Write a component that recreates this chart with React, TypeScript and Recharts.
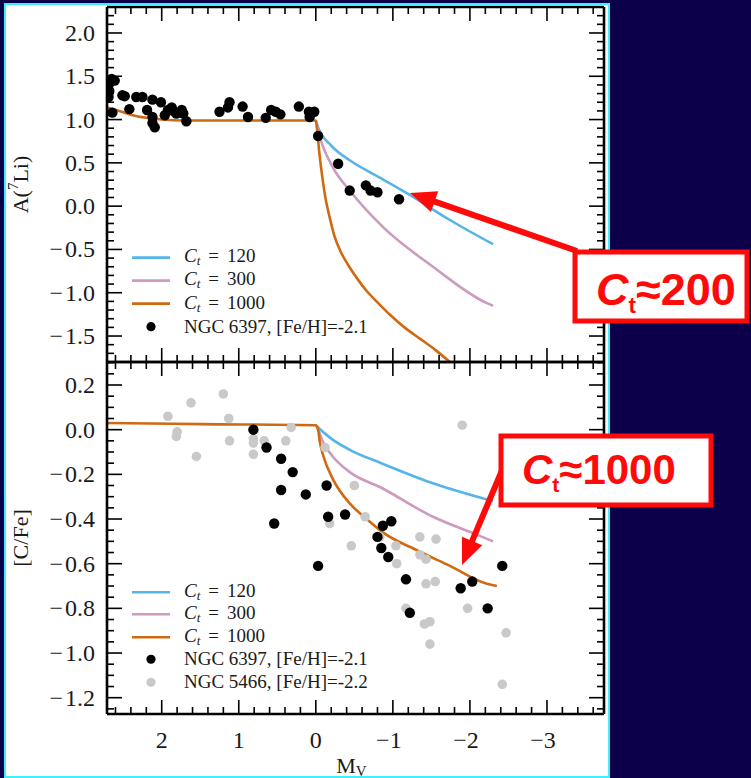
import React from 'react';
import { ComposedChart, Line, Scatter, XAxis, YAxis, Legend, ReferenceLine } from 'recharts';

type Pt = { mv: number; v: number };
const toPts = (rows: number[][]): Pt[] => rows.map(([mv, v]) => ({ mv, v }));

// ---- lithium panel: model tracks (M_V, A(7Li)) ----
const LI_CT120 = toPts([
  [0.0, 0.99], [-0.03, 0.91], [-0.2, 0.7], [-0.44, 0.53], [-0.83, 0.33],
  [-1.22, 0.13], [-1.74, -0.16], [-2.3, -0.44],
]);
const LI_CT300 = toPts([
  [0.0, 0.99], [-0.03, 0.87], [-0.22, 0.45], [-0.44, 0.18], [-0.87, -0.24],
  [-1.52, -0.7], [-2.22, -1.12], [-2.3, -1.15],
]);
// the 1000 track carries the shared pre-dredge-up branch
const LI_CT1000 = toPts([
  [2.71, 1.14], [2.55, 1.1], [2.38, 1.05], [2.2, 1.02], [2.0, 1.0], [1.7, 0.99],
  [1.2, 0.99], [0.5, 0.99], [0.0, 0.99], [-0.02, 0.85], [-0.05, 0.58], [-0.09, 0.3],
  [-0.13, 0.07], [-0.18, -0.13], [-0.24, -0.34], [-0.32, -0.52], [-0.42, -0.68],
  [-0.54, -0.84], [-0.66, -0.98], [-0.8, -1.11], [-0.97, -1.26], [-1.15, -1.4],
  [-1.35, -1.53], [-1.55, -1.66], [-1.74, -1.8],
]);
const LI_NGC6397 = toPts([
  [2.65, 1.47], [2.61, 1.45], [2.69, 1.4], [2.68, 1.33], [2.69, 1.26], [2.64, 1.08],
  [2.51, 1.28], [2.48, 1.27], [2.42, 1.12], [2.33, 1.26], [2.25, 1.26], [2.19, 1.11],
  [2.12, 1.23], [2.01, 1.2], [2.12, 1.03], [2.12, 0.96], [2.09, 0.91], [1.96, 1.05],
  [1.92, 1.11], [1.87, 1.14], [1.85, 1.1], [1.81, 1.07], [1.74, 1.11], [1.72, 1.07],
  [1.68, 0.98], [1.25, 1.09], [1.14, 1.14], [1.12, 1.2], [0.95, 1.15], [0.88, 1.03],
  [0.65, 1.02], [0.58, 1.11], [0.52, 1.09], [0.46, 1.06], [0.22, 1.15], [0.09, 1.09],
  [0.02, 1.09], [0.08, 1.03], [-0.03, 0.81], [-0.29, 0.49], [-0.44, 0.18],
  [-0.65, 0.24], [-0.71, 0.18], [-0.8, 0.16], [-1.08, 0.08],
]);

// ---- carbon panel: model tracks (M_V, [C/Fe]) ----
const CFE_CT120 = toPts([
  [0.0, 0.02], [-0.03, 0.01], [-0.2, -0.04], [-0.44, -0.09], [-0.85, -0.15],
  [-1.52, -0.24], [-2.3, -0.32],
]);
const CFE_CT300 = toPts([
  [0.0, 0.02], [-0.03, 0.0], [-0.1, -0.06], [-0.22, -0.12], [-0.44, -0.19],
  [-0.85, -0.26], [-1.52, -0.39], [-2.09, -0.47], [-2.3, -0.5],
]);
const CFE_CT1000 = toPts([
  [2.71, 0.03], [1.5, 0.025], [0.0, 0.02], [-0.03, 0.0], [-0.05, -0.05],
  [-0.1, -0.12], [-0.22, -0.22], [-0.44, -0.33], [-0.66, -0.4], [-0.87, -0.46],
  [-1.31, -0.54], [-1.74, -0.61], [-2.22, -0.69], [-2.35, -0.7],
]);
const CFE_NGC6397 = toPts([
  [0.81, 0.0], [0.64, -0.08], [0.45, -0.13], [0.3, -0.19], [0.45, -0.27], [0.13, -0.29],
  [0.54, -0.42], [-0.03, -0.61], [-0.14, -0.25], [-0.16, -0.39], [-0.38, -0.38],
  [-0.8, -0.48], [-0.87, -0.43], [-0.98, -0.41], [-0.85, -0.53], [-0.94, -0.57],
  [-1.17, -0.67], [-1.22, -0.82], [-1.88, -0.71], [-2.03, -0.68], [-2.23, -0.8],
  [-2.42, -0.61],
]);
const CFE_NGC5466 = toPts([
  [1.92, 0.06], [1.62, 0.12], [1.2, 0.16], [1.13, 0.05], [1.8, -0.01], [1.81, -0.03],
  [1.55, -0.12], [1.12, -0.05], [0.81, -0.04], [0.81, -0.06], [0.67, -0.05],
  [0.81, -0.11], [0.39, -0.05], [0.32, 0.01], [-0.12, -0.08], [-0.5, -0.25],
  [-0.18, -0.42], [-0.46, -0.52], [-0.64, -0.39], [-0.83, -0.48], [-1.04, -0.52],
  [-1.05, -0.6], [-1.35, -0.48], [-1.56, -0.49], [-1.35, -0.56], [-1.43, -0.58],
  [-1.43, -0.69], [-1.55, -0.68], [-1.17, -0.8], [-1.41, -0.87], [-1.48, -0.86],
  [-1.48, -0.96], [-1.9, 0.02], [-1.97, -0.8], [-2.47, -0.91], [-2.42, -1.14],
]);

// ---- axes ----
const MV_DOMAIN: [number, number] = [-3.74, 2.71];
const LI_DOMAIN: [number, number] = [-1.8, 2.3];
const CFE_DOMAIN: [number, number] = [-1.273, 0.303];
const MV_STEP = { major: 1, minor: 0.2 };
const LI_STEP = { major: 0.5, minor: 0.1 };
const CFE_STEP = { major: 0.2, minor: 0.05 };

const LEGEND_ORDER = [
  'C_t = 120',
  'C_t = 300',
  'C_t = 1000',
  'NGC 6397, [Fe/H]=-2.1',
  'NGC 5466, [Fe/H]=-2.2',
];

const NAVY = '#0b0049';
const CYAN = '#3ef0ff';
const BLUE = '#56b4e9';
const PINK = '#cc9bbd';
const ORANGE = '#cf6a12';
const GREY = '#c9c9c9';
const RED = '#ff0a0a';
const SERIF = '"Liberation Serif", "DejaVu Serif", serif';
const HAND = '"Liberation Sans", "DejaVu Sans", sans-serif';

const CHART_W = 620;
const PLOT_RIGHT = 604;

const stepTicks = (domain: [number, number], step: number) => {
  const out: number[] = [];
  const lo = Math.ceil(domain[0] / step - 1e-9);
  const hi = Math.floor(domain[1] / step + 1e-9);
  for (let k = lo; k <= hi; k++) out.push(Math.round(k * step * 1000) / 1000);
  return out;
};
const isMultiple = (v: number, step: number) => Math.abs(v / step - Math.round(v / step)) < 1e-6;
// long math minus, optionally followed by a thin gap
const signed = (v: number, digits: number, gap = '') => {
  const s = Math.abs(v).toFixed(digits);
  return v < -1e-9 ? `\u2212${gap}${s}` : s;
};

const TICK_STROKE = { stroke: '#000', strokeWidth: 1.6 };
const TEXT = { fontFamily: SERIF, fill: '#1a1a1a' };

const makeXTick = (plotTop: number, labels: boolean) => (props: any) => {
  const { x, y, payload } = props;
  const major = isMultiple(payload.value, MV_STEP.major);
  const len = major ? 14 : 7;
  const neg = payload.value < 0;
  return (
    <g>
      <line x1={x} x2={x} y1={y} y2={y - len} {...TICK_STROKE} />
      <line x1={x} x2={x} y1={plotTop} y2={plotTop + len} {...TICK_STROKE} />
      {labels && major && (
        <text x={neg ? x - 4 : x} y={y + 26} textAnchor="middle" dominantBaseline="central" fontSize={24} {...TEXT}>
          {signed(payload.value, 0)}
        </text>
      )}
    </g>
  );
};

const makeYTick = (step: { major: number }) => (props: any) => {
  const { x, y, payload } = props;
  const major = isMultiple(payload.value, step.major);
  const len = major ? 15 : 7;
  return (
    <g>
      <line x1={x} x2={x + len} y1={y} y2={y} {...TICK_STROKE} />
      <line x1={PLOT_RIGHT} x2={PLOT_RIGHT - len} y1={y} y2={y} {...TICK_STROKE} />
      {major && (
        <text x={x - 12} y={y} textAnchor="end" dominantBaseline="central" fontSize={24} {...TEXT}>
          {signed(payload.value, 1, '\u200a')}
        </text>
      )}
    </g>
  );
};

const liTitle = (props: any) => {
  const vb = props.viewBox;
  const cx = vb.x + 20;
  const cy = vb.y + vb.height / 2;
  return (
    <text transform={`translate(${cx},${cy}) rotate(-90)`} textAnchor="middle" dominantBaseline="central" fontSize={22} {...TEXT}>
      A(<tspan fontSize={15} dy={-7}>7</tspan>
      <tspan dy={7}>Li)</tspan>
    </text>
  );
};

const cfeTitle = (props: any) => {
  const vb = props.viewBox;
  const cx = vb.x + 20;
  const cy = vb.y + vb.height / 2;
  return (
    <text transform={`translate(${cx},${cy}) rotate(-90)`} textAnchor="middle" dominantBaseline="central" fontSize={22} {...TEXT}>
      [C/Fe]
    </text>
  );
};

const mvTitle = (props: any) => {
  const vb = props.viewBox;
  return (
    <text x={vb.x + vb.width / 2 - 4} y={vb.y + 59} textAnchor="middle" fontSize={22} {...TEXT}>
      M<tspan fontSize={15} dy={3}>V</tspan>
    </text>
  );
};

const legendLabel = (value: string) => {
  if (value.startsWith('C_t')) {
    const rest = value.replace('C_t = ', '');
    return (
      <span>
        <i>C</i>
        <sub style={{ fontSize: 13, fontStyle: 'italic', verticalAlign: '-3px' }}>t</sub>
        <span style={{ margin: '0 8px' }}>=</span>
        {rest}
      </span>
    );
  }
  return <span>{value}</span>;
};

const makeLegend = (rowH: number) => (props: any) => {
  const items = [...(props.payload ?? [])].sort(
    (a: any, b: any) => LEGEND_ORDER.indexOf(a.value) - LEGEND_ORDER.indexOf(b.value)
  );
  return (
    <div style={{ fontFamily: SERIF, fontSize: 19, color: '#1a1a1a' }}>
      {items.map((it: any) => (
        <div key={it.value} style={{ display: 'flex', alignItems: 'center', height: rowH, whiteSpace: 'nowrap' }}>
          <svg width={56} height={rowH} style={{ display: 'block' }}>
            {it.type === 'line' ? (
              <line x1={4} x2={42} y1={rowH / 2} y2={rowH / 2} stroke={it.color} strokeWidth={2.6} />
            ) : (
              <circle cx={23} cy={rowH / 2} r={4.6} fill={it.color} />
            )}
          </svg>
          {legendLabel(it.value)}
        </div>
      ))}
    </div>
  );
};

const dot = (r: number, fill: string) => (p: any) => <circle cx={p.cx} cy={p.cy} r={r} fill={fill} />;

const Arrow = ({ from, to }: { from: [number, number]; to: [number, number] }) => {
  const dx = to[0] - from[0];
  const dy = to[1] - from[1];
  const len = Math.hypot(dx, dy);
  const ux = dx / len;
  const uy = dy / len;
  const head = 26;
  const half = 11;
  const bx = to[0] - ux * head;
  const by = to[1] - uy * head;
  const pts = `${to[0]},${to[1]} ${bx - uy * half},${by + ux * half} ${bx + uy * half},${by - ux * half}`;
  return (
    <g>
      <line x1={from[0]} y1={from[1]} x2={bx + ux * 2} y2={by + uy * 2} stroke={RED} strokeWidth={6} />
      <polygon points={pts} fill={RED} />
    </g>
  );
};

const Callout = ({ x, y, w, h, size, digits, tx, ty }: any) => (
  <g>
    <rect x={x} y={y} width={w} height={h} fill="#fff" stroke={RED} strokeWidth={5} />
    <text x={tx} y={ty} fill={RED} fontSize={size} fontWeight="bold" fontFamily={HAND}>
      <tspan fontStyle="italic">C</tspan>
      <tspan fontSize={size * 0.5} dy={size * 0.18}>t</tspan>
      <tspan dy={-size * 0.18}>{'\u2248' + digits}</tspan>
    </text>
  </g>
);

const lineProps = {
  type: 'monotone' as const,
  dataKey: 'v',
  dot: false,
  activeDot: false,
  strokeWidth: 2.6,
  isAnimationActive: false,
};

export default function App() {
  const mvTicks = stepTicks(MV_DOMAIN, MV_STEP.minor);
  const liTicks = stepTicks(LI_DOMAIN, LI_STEP.minor);
  const cfeTicks = stepTicks(CFE_DOMAIN, CFE_STEP.minor);
  const frame = { stroke: '#000', strokeWidth: 2.6 };

  return (
    <div style={{ position: 'absolute', left: 0, top: 0, width: 751, height: 778, background: NAVY, overflow: 'hidden', fontFamily: SERIF }}>
      <div
        style={{
          position: 'absolute', left: 4, top: 3, width: 606, height: 775, boxSizing: 'border-box',
          background: '#fff', border: `2.5px solid ${CYAN}`,
        }}
      />

      {/* lithium abundance panel */}
      <div style={{ position: 'absolute', left: 0, top: 0 }}>
        <ComposedChart width={CHART_W} height={370} margin={{ top: 7, right: CHART_W - PLOT_RIGHT, bottom: 0, left: 0 }}>
          <XAxis
            type="number" dataKey="mv" domain={MV_DOMAIN} reversed allowDataOverflow
            ticks={mvTicks} interval={0} height={8} tickSize={0} tickMargin={0} tickLine={false}
            axisLine={frame} tick={makeXTick(7, false)}
          />
          <YAxis
            type="number" dataKey="v" domain={LI_DOMAIN} allowDataOverflow
            ticks={liTicks} interval={0} width={107} tickSize={0} tickMargin={0} tickLine={false}
            axisLine={frame} tick={makeYTick(LI_STEP)} label={{ content: liTitle }}
          />
          <ReferenceLine y={LI_DOMAIN[1]} ifOverflow="visible" {...frame} />
          <ReferenceLine x={MV_DOMAIN[0]} ifOverflow="visible" {...frame} />
          <Line {...lineProps} data={LI_CT120} name="C_t = 120" stroke={BLUE} />
          <Line {...lineProps} data={LI_CT300} name="C_t = 300" stroke={PINK} />
          <Line {...lineProps} data={LI_CT1000} name="C_t = 1000" stroke={ORANGE} />
          <Scatter data={LI_NGC6397} name="NGC 6397, [Fe/H]=-2.1" fill="#000" shape={dot(5.2, '#000')} isAnimationActive={false} />
          <Legend
            layout="horizontal" verticalAlign="middle" align="center"
            wrapperStyle={{ left: 128, top: 245.5, width: 'auto' }}
            content={makeLegend(23.3)}
          />
        </ComposedChart>
      </div>

      {/* carbon abundance panel */}
      <div style={{ position: 'absolute', left: 0, top: 340 }}>
        <ComposedChart width={CHART_W} height={438} margin={{ top: 22, right: CHART_W - PLOT_RIGHT, bottom: 0, left: 0 }}>
          <XAxis
            type="number" dataKey="mv" domain={MV_DOMAIN} reversed allowDataOverflow
            ticks={mvTicks} interval={0} height={64} tickSize={0} tickMargin={0} tickLine={false}
            axisLine={frame} tick={makeXTick(22, true)} label={{ content: mvTitle }}
          />
          <YAxis
            type="number" dataKey="v" domain={CFE_DOMAIN} allowDataOverflow
            ticks={cfeTicks} interval={0} width={107} tickSize={0} tickMargin={0} tickLine={false}
            axisLine={frame} tick={makeYTick(CFE_STEP)} label={{ content: cfeTitle }}
          />
          <ReferenceLine y={CFE_DOMAIN[1]} ifOverflow="visible" {...frame} />
          <ReferenceLine x={MV_DOMAIN[0]} ifOverflow="visible" {...frame} />
          <Scatter data={CFE_NGC5466} name="NGC 5466, [Fe/H]=-2.2" fill={GREY} shape={dot(4.8, GREY)} isAnimationActive={false} />
          <Line {...lineProps} data={CFE_CT120} name="C_t = 120" stroke={BLUE} />
          <Line {...lineProps} data={CFE_CT300} name="C_t = 300" stroke={PINK} />
          <Line {...lineProps} data={CFE_CT1000} name="C_t = 1000" stroke={ORANGE} />
          <Scatter data={CFE_NGC6397} name="NGC 6397, [Fe/H]=-2.1" fill="#000" shape={dot(5.2, '#000')} isAnimationActive={false} />
          <Legend
            layout="horizontal" verticalAlign="middle" align="center"
            wrapperStyle={{ left: 128, top: 240.7, width: 'auto' }}
            content={makeLegend(22.5)}
          />
        </ComposedChart>
      </div>

      {/* callouts */}
      <svg width={751} height={778} style={{ position: 'absolute', left: 0, top: 0, pointerEvents: 'none' }}>
        <Arrow from={[577, 251]} to={[410, 193]} />
        <Callout x={575} y={252} w={172} h={69} size={45} digits="200" tx={596} ty={305} />
        <Arrow from={[503, 468]} to={[462, 565]} />
        <Callout x={501} y={436} w={210} h={69} size={42} digits="1000" tx={522} ty={484} />
      </svg>
    </div>
  );
}
